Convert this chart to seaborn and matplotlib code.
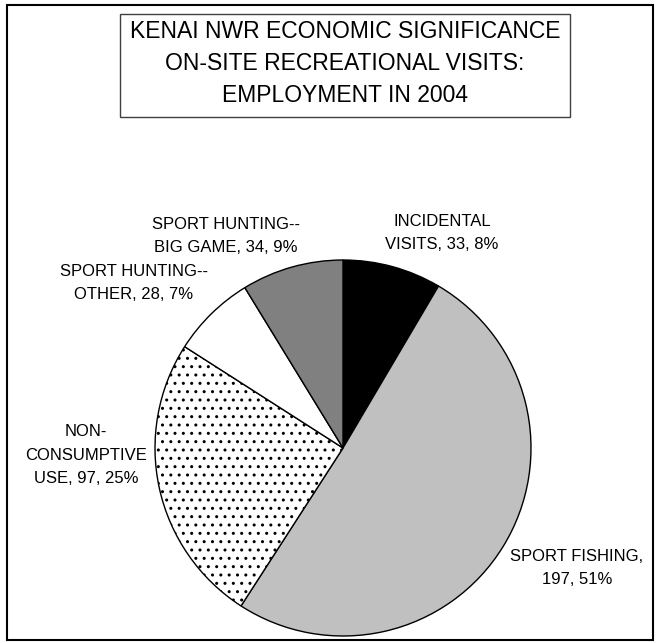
import matplotlib

matplotlib.use("Agg")
import matplotlib.pyplot as plt
from matplotlib.patches import Rectangle
import seaborn as sns

# data
categories = [
    "INCIDENTAL\nVISITS",
    "SPORT FISHING",
    "NON-\nCONSUMPTIVE\nUSE",
    "SPORT HUNTING--\nOTHER",
    "SPORT HUNTING--\nBIG GAME",
]
employment = [33, 197, 97, 28, 34]
percent_labels = ["8%", "51%", "25%", "7%", "9%"]
slice_colors = ["#000000", "#C0C0C0", "#FFFFFF", "#FFFFFF", "#808080"]
slice_hatches = [None, None, "..", None, None]
label_breaks = [" ", ",\n", " ", " ", " "]
title = "KENAI NWR ECONOMIC SIGNIFICANCE\nON-SITE RECREATIONAL VISITS:\nEMPLOYMENT IN 2004"

W, H = 658, 643
# label centres in pixels (x from left, y from top)
label_pos = [(442, 233), (577, 568), (86, 455), (134, 283), (226, 236)]

sns.set_theme(style="white")
plt.rcParams["font.family"] = ["Liberation Sans", "DejaVu Sans"]
plt.rcParams["hatch.color"] = "#404040"
plt.rcParams["hatch.linewidth"] = 1.0


def fx(px):
    return px / W


def fy(py):
    return 1 - py / H


def make_label(cat, val, pct, brk):
    if brk == ",\n":
        return f"{cat},\n{val}, {pct}"
    return f"{cat}, {val}, {pct}"


fig = plt.figure(figsize=(W / 100, H / 100), dpi=100)
fig.patch.set_facecolor("white")

# pie: centre (343, 448) px, radius 188 px
cx, cy, r = 343, 448, 188
ax = fig.add_axes([fx(cx - r), fy(cy + r), 2 * r / W, 2 * r / H])
wedges, _ = ax.pie(
    employment,
    colors=slice_colors,
    startangle=90,
    counterclock=False,
    wedgeprops=dict(edgecolor="black", linewidth=1.0, clip_on=False),
)
for w, h in zip(wedges, slice_hatches):
    if h:
        w.set_hatch(h)
ax.set_xlim(-1, 1)
ax.set_ylim(-1, 1)
ax.set_aspect("equal")
ax.axis("off")

for cat, val, pct, brk, (px, py) in zip(categories, employment, percent_labels,
                                       label_breaks, label_pos):
    fig.text(fx(px), fy(py), make_label(cat, val, pct, brk), ha="center",
             va="center", fontsize=12, linespacing=1.74, color="black")

# title box
fig.patches.append(Rectangle((fx(120), fy(117)), (570 - 120) / W, (117 - 14) / H,
                             transform=fig.transFigure, fill=False,
                             edgecolor="#404040", linewidth=1.0))
fig.text(fx(345), fy(64), title, ha="center", va="center", fontsize=16.5,
         linespacing=1.5, color="black")

# outer frame
fig.patches.append(Rectangle((fx(7), fy(640)), (653 - 7) / W, (640 - 5) / H,
                             transform=fig.transFigure, fill=False,
                             edgecolor="black", linewidth=1.5))

fig.savefig("out.png", dpi=100)
